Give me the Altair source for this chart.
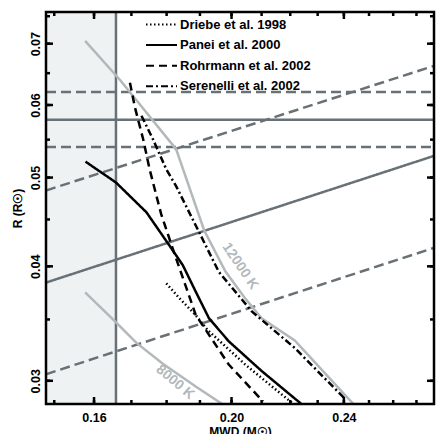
import math
import altair as alt
import pandas as pd

# ---------------- data ----------------
M_DOMAIN = [0.148, 0.2778]
R_DOMAIN = [0.0283, 0.0758]

x_major = [0.16, 0.20, 0.24]
x_minor = [0.15, 0.16, 0.17, 0.18, 0.19, 0.20, 0.21, 0.22, 0.23, 0.24, 0.25, 0.26, 0.27]
y_major = [0.03, 0.04, 0.05, 0.06, 0.07]
y_minor = [0.03, 0.035, 0.04, 0.045, 0.05, 0.055, 0.06, 0.065, 0.07, 0.075]

models = ["Driebe et al. 1998", "Panei et al. 2000", "Rohrmann et al. 2002", "Serenelli et al. 2002"]
model_dash = [[1.5, 2.5], [1, 0], [8, 5], [7, 3, 2, 3]]

driebe_M = [0.1799, 0.1838, 0.1887, 0.1924, 0.2045, 0.2170, 0.2205]
driebe_R = [0.03832, 0.03691, 0.03538, 0.03408, 0.03125, 0.02898, 0.02841]

panei_M = [0.1578, 0.1658, 0.1742, 0.1808, 0.1848, 0.1887, 0.1928, 0.1991, 0.2100, 0.2240]
panei_R = [0.05204, 0.04938, 0.04582, 0.04216, 0.04011, 0.03754, 0.03511, 0.03313, 0.03075, 0.0283]

rohr_M = [0.1696, 0.1710, 0.1733, 0.1751, 0.1784, 0.1818, 0.1887, 0.1991, 0.2105]
rohr_R = [0.06346, 0.05958, 0.05501, 0.05105, 0.04563, 0.04181, 0.03541, 0.03125, 0.02848]

seren_M = [0.1728, 0.1761, 0.1799, 0.1828, 0.1897, 0.1959, 0.2067, 0.2216, 0.2407]
seren_R = [0.05840, 0.05501, 0.05105, 0.04893, 0.04362, 0.03945, 0.03571, 0.03258, 0.02862]

# isotherms
t12000_M = [0.1577, 0.1669, 0.1828, 0.1913, 0.1980, 0.2045, 0.2100, 0.2216, 0.2412, 0.2438]
t12000_R = [0.0705, 0.0639, 0.0537, 0.0438, 0.0395, 0.0369, 0.0351, 0.0332, 0.0288, 0.0283]
t8000_M = [0.1577, 0.1652, 0.1714, 0.1789, 0.1887, 0.1970]
t8000_R = [0.03747, 0.03494, 0.03300, 0.03131, 0.02957, 0.0283]

iso_labels = ["12000 K", "8000 K"]
iso_label_M = [0.2028, 0.1825]
iso_label_R = [0.0400, 0.0299]
iso_label_angle = [56, 40]

# log g constraint lines (endpoints at the plot edges)
logg_style = ["solid", "dashed", "dashed"]
logg_R_left = [0.0384, 0.0484, 0.0305]
logg_R_right = [0.0528, 0.0662, 0.0419]

# radius constraint lines
rad_R = [0.0578, 0.0620, 0.0540]
rad_style = ["solid", "dashed", "dashed"]

# mass limit
mass_limit = 0.1658

# ---------------- tables ----------------
W, H = 388, 392
FONT = "Liberation Sans"
DARK = "#687176"
LIGHT = "#b3b8bb"

curves = []
for name, Ms, Rs in zip(models, [driebe_M, panei_M, rohr_M, seren_M],
                        [driebe_R, panei_R, rohr_R, seren_R]):
    for i, (m, r) in enumerate(zip(Ms, Rs)):
        curves.append({"model": name, "M": m, "R": r, "o": i})
curves = pd.DataFrame(curves)

iso = []
for name, Ms, Rs in zip(iso_labels, [t12000_M, t8000_M], [t12000_R, t8000_R]):
    for i, (m, r) in enumerate(zip(Ms, Rs)):
        iso.append({"T": name, "M": m, "R": r, "o": i})
iso = pd.DataFrame(iso)

glines = []
for i, (s, rl, rr) in enumerate(zip(logg_style, logg_R_left, logg_R_right)):
    glines.append({"id": "g" + str(i), "style": s, "M": M_DOMAIN[0], "R": rl})
    glines.append({"id": "g" + str(i), "style": s, "M": M_DOMAIN[1], "R": rr})
for i, (r, s) in enumerate(zip(rad_R, rad_style)):
    glines.append({"id": "r" + str(i), "style": s, "M": M_DOMAIN[0], "R": r})
    glines.append({"id": "r" + str(i), "style": s, "M": M_DOMAIN[1], "R": r})
glines = pd.DataFrame(glines)

labels_df = pd.DataFrame({"t": iso_labels, "M": iso_label_M, "R": iso_label_R, "a": iso_label_angle})

# inward tick segments, each a short path starting at a frame edge
fx = math.log(M_DOMAIN[1] / M_DOMAIN[0]) / W
fy = math.log(R_DOMAIN[1] / R_DOMAIN[0]) / H
tick_rows = []
k = 0
for vals, ln in [(x_minor, 4), (x_major, 7)]:
    for v in vals:
        for r0, sgn in [(R_DOMAIN[0], 1), (R_DOMAIN[1], -1)]:
            tick_rows.append({"id": k, "M": v, "R": r0})
            tick_rows.append({"id": k, "M": v, "R": r0 * math.exp(sgn * ln * fy)})
            k += 1
for vals, ln in [(y_minor, 4), (y_major, 7)]:
    for v in vals:
        for m0, sgn in [(M_DOMAIN[0], 1), (M_DOMAIN[1], -1)]:
            tick_rows.append({"id": k, "M": m0, "R": v})
            tick_rows.append({"id": k, "M": m0 * math.exp(sgn * ln * fx), "R": v})
            k += 1
tick_df = pd.DataFrame(tick_rows)

frame_df = pd.DataFrame({"m1": [M_DOMAIN[0]], "m2": [M_DOMAIN[1]],
                         "r1": [R_DOMAIN[0]], "r2": [R_DOMAIN[1]]})

xs = alt.Scale(type="log", domain=M_DOMAIN, nice=False, zero=False)
ys = alt.Scale(type="log", domain=R_DOMAIN, nice=False, zero=False)

xaxis = alt.Axis(values=x_major, format=".2f", ticks=False, domain=False, grid=False,
                 labelFont=FONT, labelFontWeight="bold", labelFontSize=12.5, labelColor="black",
                 labelPadding=7, title="MWD (M☉)", titleFont=FONT, titleFontSize=12,
                 titleFontWeight="bold", titleColor="black", titlePadding=3)
yaxis = alt.Axis(values=y_major, format=".2f", ticks=False, domain=False, grid=False,
                 labelFont=FONT, labelFontWeight="bold", labelFontSize=12.5, labelColor="black",
                 labelAngle=-90, labelPadding=4, title="R (R☉)", titleFont=FONT, titleFontSize=12,
                 titleFontWeight="bold", titleColor="black", titlePadding=5)

shade = alt.Chart(pd.DataFrame({"m1": [M_DOMAIN[0]], "m2": [mass_limit],
                                "r1": [R_DOMAIN[0]], "r2": [R_DOMAIN[1]]})).mark_rect(
    color="#eef2f3").encode(
    x=alt.X("m1:Q", scale=xs, axis=xaxis), x2="m2:Q",
    y=alt.Y("r1:Q", scale=ys, axis=yaxis), y2="r2:Q")

vline = alt.Chart(pd.DataFrame({"m": [mass_limit]})).mark_rule(
    color=DARK, strokeWidth=2.5).encode(x=alt.X("m:Q", scale=xs))

gray = alt.Chart(glines).mark_line(color=DARK, strokeWidth=2.5, clip=True).encode(
    x=alt.X("M:Q", scale=xs), y=alt.Y("R:Q", scale=ys), detail="id:N",
    strokeDash=alt.StrokeDash("style:N", scale=alt.Scale(domain=["solid", "dashed"],
                                                          range=[[1, 0], [10, 5]]), legend=None))

isol = alt.Chart(iso).mark_line(color=LIGHT, strokeWidth=2.5, clip=True).encode(
    x=alt.X("M:Q", scale=xs), y=alt.Y("R:Q", scale=ys), detail="T:N", order="o:Q")

isotext = alt.Chart(labels_df).mark_text(font=FONT, fontWeight="bold", fontSize=14,
                                         color=LIGHT).encode(
    x=alt.X("M:Q", scale=xs), y=alt.Y("R:Q", scale=ys), text="t:N",
    angle=alt.Angle("a:Q", scale=None))

black = alt.Chart(curves).mark_line(color="black", strokeWidth=2.5, clip=True).encode(
    x=alt.X("M:Q", scale=xs), y=alt.Y("R:Q", scale=ys), order="o:Q",
    strokeDash=alt.StrokeDash("model:N", scale=alt.Scale(domain=models, range=model_dash),
                              legend=alt.Legend(orient="none", legendX=104, legendY=1, title=None,
                                                symbolType="M-1.5,0L1.5,0", symbolSize=427,
                                                symbolStrokeWidth=2, symbolStrokeColor="black",
                                                labelFont=FONT, labelFontSize=13,
                                                labelFontWeight="bold", labelColor="black",
                                                labelOffset=7, rowPadding=1.6)))

tick_layer = alt.Chart(tick_df).mark_line(color="#000000", strokeWidth=2.5, opacity=1).encode(
    x=alt.X("M:Q", scale=xs), y=alt.Y("R:Q", scale=ys), detail="id:N")

frame = alt.Chart(frame_df).mark_rect(fill="transparent", stroke="#000000",
                                      strokeWidth=2.5).encode(
    x=alt.X("m1:Q", scale=xs), x2="m2:Q", y=alt.Y("r1:Q", scale=ys), y2="r2:Q")

chart = alt.layer(shade, vline, gray, isol, isotext, black, tick_layer, frame).resolve_scale(
    strokeDash="independent"
).properties(
    width=W, height=H,
    autosize=alt.AutoSizeParams(type="none"),
    padding={"left": 38, "top": 4, "right": 2, "bottom": 30},
).configure_view(strokeWidth=0)

chart.save("out.html", embed_options={"renderer": "svg", "actions": False})
